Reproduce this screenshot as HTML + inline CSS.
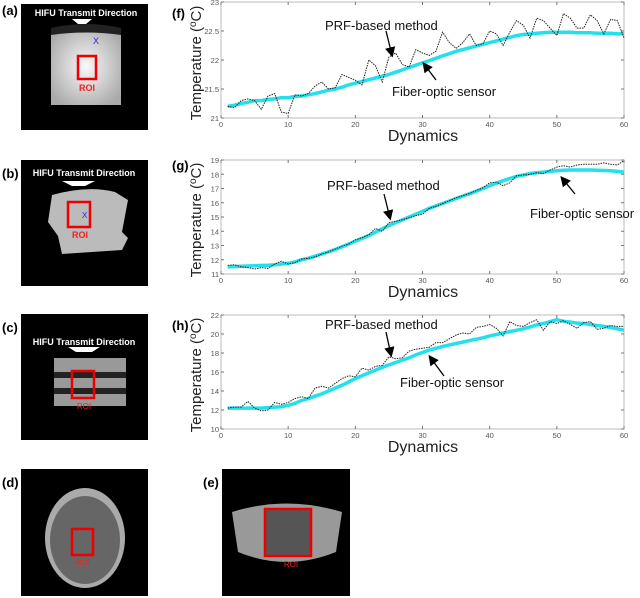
<!DOCTYPE html>
<html><head><meta charset="utf-8"><style>
html,body{margin:0;padding:0;background:#fff;}
svg{display:block;font-family:"Liberation Sans",sans-serif;}
.lbl{font-weight:bold;font-size:13px;}
.tick{font-size:7.5px;fill:#555;}
.ann{font-size:13px;fill:#111;}
.ax{font-size:16px;fill:#222;}
.yax{font-size:15px;fill:#222;}
</style></head><body>
<svg id="fig" width="640" height="598" viewBox="0 0 640 598">
<defs>
<marker id="ah" markerWidth="8" markerHeight="8" refX="6" refY="4" orient="auto"><path d="M0,0 L8,4 L0,8 z" fill="#000"/></marker>
<radialGradient id="glow" cx="0.5" cy="0.5" r="0.6"><stop offset="0" stop-color="#f8f8f8"/><stop offset="1" stop-color="#aaa"/></radialGradient>
</defs>
<g>
<rect x="21" y="4" width="127" height="126" fill="#000"/>
<rect x="51" y="28" width="70" height="77" fill="url(#glow)"/>
<path d="M51,28 Q86,20 121,28 L121,35 Q86,30 51,35z" fill="#222"/>
<polygon points="72,19 92,19 86,24 78,24" fill="#fff"/>
<text x="86" y="16" font-size="9" font-weight="bold" fill="#fff" text-anchor="middle">HIFU Transmit Direction</text>
<text x="93" y="44" font-size="9" fill="#22f">X</text>
<rect x="78" y="56" width="18" height="23" fill="none" stroke="#e00" stroke-width="2.5"/>
<text x="87" y="91" font-size="9" font-weight="bold" fill="#e22" text-anchor="middle">ROI</text>
</g>
<text class="lbl" x="2" y="15">(a)</text>
<g>
<rect x="21" y="160" width="127" height="126" fill="#000"/>
<path d="M52,195 Q88,185 115,192 L128,200 L122,232 L128,238 L122,250 L62,254 L58,236 L48,222z" fill="#bbb"/>
<polygon points="62,181 95,181 85,186 72,186" fill="#fff"/>
<text x="84" y="176" font-size="9" font-weight="bold" fill="#fff" text-anchor="middle">HIFU Transmit Direction</text>
<rect x="68" y="202" width="22" height="25" fill="none" stroke="#e00" stroke-width="2.5"/>
<text x="82" y="218" font-size="8" fill="#22f">X</text>
<text x="80" y="238" font-size="9" font-weight="bold" fill="#e22" text-anchor="middle">ROI</text>
</g>
<text class="lbl" x="2" y="178">(b)</text>
<g>
<rect x="21" y="314" width="127" height="126" fill="#000"/>
<rect x="54" y="358" width="72" height="48" fill="#999"/>
<rect x="54" y="372" width="72" height="6" fill="#222"/>
<rect x="54" y="388" width="72" height="6" fill="#222"/>
<polygon points="68,347 100,347 92,352 76,352" fill="#fff"/>
<text x="84" y="345" font-size="9" font-weight="bold" fill="#fff" text-anchor="middle">HIFU Transmit Direction</text>
<rect x="72" y="371" width="22" height="27" fill="none" stroke="#e00" stroke-width="2.5"/>
<text x="84" y="409" font-size="8" fill="#e22" text-anchor="middle">ROI</text>
</g>
<text class="lbl" x="2" y="332">(c)</text>
<g>
<rect x="21" y="469" width="127" height="127" fill="#000"/>
<ellipse cx="85" cy="538" rx="40" ry="50" fill="#aaa"/>
<ellipse cx="85" cy="540" rx="35" ry="44" fill="#666"/>
<rect x="72" y="529" width="21" height="26" fill="none" stroke="#e00" stroke-width="2.5"/>
<text x="83" y="565" font-size="8" fill="#e22" text-anchor="middle">ROI</text>
</g>
<text class="lbl" x="2" y="487">(d)</text>
<g>
<rect x="222" y="469" width="128" height="127" fill="#000"/>
<path d="M232,512 Q286,495 342,512 L336,552 Q286,572 238,552z" fill="#999"/>
<rect x="265" y="509" width="46" height="47" fill="#555" stroke="#e00" stroke-width="2.5"/>
<text x="291" y="567" font-size="8" fill="#e22" text-anchor="middle">ROI</text>
</g>
<text class="lbl" x="203" y="487">(e)</text>
<g id="charts"></g>
</svg>
<script>
const xTicks=[0,10,20,30,40,50,60];
const fTicks=[21,21.5,22,22.5,23];
const gTicks=[11,12,13,14,15,16,17,18,19];
const hTicks=[10,12,14,16,18,20,22];
const fFiber=[21.2,21.22,21.25,21.27,21.3,21.3,21.32,21.33,21.35,21.35,21.37,21.38,21.4,21.42,21.45,21.48,21.5,21.53,21.57,21.6,21.63,21.66,21.69,21.72,21.75,21.79,21.83,21.87,21.91,21.95,21.99,22.03,22.07,22.11,22.15,22.18,22.21,22.24,22.27,22.3,22.33,22.36,22.39,22.42,22.44,22.45,22.46,22.47,22.48,22.48,22.48,22.48,22.47,22.47,22.47,22.46,22.46,22.46,22.45,22.45];
const fPRF=[21.2,21.18,21.3,21.33,21.3,21.15,21.38,21.42,21.1,21.08,21.4,21.38,21.42,21.55,21.62,21.5,21.52,21.75,21.7,21.65,21.57,22.0,21.9,21.62,22.05,22.12,21.92,21.88,22.18,22.12,22.08,22.15,22.48,22.3,22.2,22.3,22.45,22.25,22.28,22.5,22.45,22.25,22.48,22.68,22.6,22.38,22.72,22.68,22.55,22.42,22.8,22.72,22.55,22.55,22.78,22.68,22.45,22.7,22.68,22.38];
const gFiber=[11.5,11.52,11.54,11.56,11.58,11.6,11.62,11.65,11.7,11.75,11.85,12.0,12.1,12.25,12.4,12.55,12.72,12.9,13.1,13.3,13.5,13.7,13.93,14.17,14.4,14.6,14.8,15.0,15.2,15.4,15.6,15.78,15.95,16.12,16.3,16.47,16.64,16.8,17.0,17.2,17.38,17.55,17.7,17.85,17.95,18.05,18.1,18.15,18.2,18.25,18.28,18.3,18.3,18.3,18.3,18.28,18.26,18.24,18.2,18.15];
const gPRF=[11.6,11.65,11.5,11.45,11.35,11.45,11.4,11.7,11.9,11.7,11.8,12.05,12.1,12.2,12.4,12.55,12.75,12.95,13.1,13.4,13.55,13.75,14.2,14.0,14.6,14.7,14.8,14.95,15.1,15.2,15.6,15.75,15.95,16.15,16.35,16.5,16.65,16.85,17.05,17.4,17.45,17.2,17.4,17.9,17.95,18.0,18.1,18.05,18.3,18.5,18.6,18.5,18.65,18.7,18.7,18.7,18.8,18.7,18.65,18.95];
const hFiber=[12.2,12.2,12.2,12.2,12.2,12.2,12.25,12.3,12.35,12.5,12.7,13.0,13.2,13.45,13.7,14.0,14.3,14.6,14.95,15.3,15.6,15.9,16.2,16.5,16.75,17.0,17.25,17.5,17.8,18.05,18.3,18.5,18.7,18.85,19.0,19.15,19.3,19.45,19.6,19.8,19.95,20.1,20.25,20.4,20.55,20.75,20.95,21.1,21.3,21.5,21.35,21.25,21.15,21.1,21.0,20.9,20.8,20.7,20.55,20.4];
const hPRF=[12.2,12.3,12.3,12.9,12.2,11.9,12.0,12.8,12.6,12.8,13.2,13.4,13.2,14.3,14.5,14.3,14.8,15.3,15.6,15.5,16.4,16.2,16.6,16.7,17.6,17.4,17.5,18.2,18.4,18.5,18.6,19.1,19.1,19.5,19.9,20.1,20.0,20.7,20.8,21.0,20.6,19.8,21.3,20.9,20.8,21.2,21.5,20.4,21.3,21.1,21.4,21.0,20.6,21.2,21.3,20.5,20.6,20.9,20.8,20.8];
const NS='http://www.w3.org/2000/svg';
const root=document.getElementById('charts');
function mk(tag,attrs,parent,txt){const e=document.createElementNS(NS,tag);for(const k in attrs)e.setAttribute(k,attrs[k]);if(txt!==undefined)e.textContent=txt;(parent||root).appendChild(e);return e;}
function chart(id,top,bot,yTicks,ymin,ymax,fiber,prf,letter,letterY,ann){
  const L=221,R=624;
  const X=v=>L+(v/60)*(R-L);
  const Y=v=>bot-(v-ymin)/(ymax-ymin)*(bot-top);
  const g=mk('g',{});
  
  
  const fr=mk('rect',{x:L,y:top,width:R-L,height:bot-top,fill:'#fff',stroke:'#bbb','stroke-width':1},g);
  
  
  xTicks.forEach(t=>{
    mk('line',{x1:X(t),x2:X(t),y1:bot,y2:bot-3,stroke:'#777'},g);
    mk('line',{x1:X(t),x2:X(t),y1:top,y2:top+3,stroke:'#777'},g);
    const tx=mk('text',{x:X(t),y:bot+9,'text-anchor':'middle',class:'tick'},g,String(t));
    
    
  });
  yTicks.forEach(t=>{
    mk('line',{x1:L,x2:L+3,y1:Y(t),y2:Y(t),stroke:'#777'},g);
    mk('line',{x1:R,x2:R-3,y1:Y(t),y2:Y(t),stroke:'#777'},g);
    const tx=mk('text',{x:L-2,y:Y(t)+3,'text-anchor':'end',class:'tick'},g,String(t));
    
    
  });
  const pd=a=>a.map((v,i)=>(i?'L':'M')+X(i+1).toFixed(1)+','+Y(v).toFixed(1)).join(' ');
  const fl=mk('path',{d:pd(fiber),fill:'none',stroke:'#22e0ec','stroke-width':3.5},g);
  
  
  const pl=mk('path',{d:pd(prf),fill:'none',stroke:'#222','stroke-width':1,'stroke-dasharray':'1.5,1'},g);
  
  
  const lt=mk('text',{x:172,y:letterY,class:'lbl'},g,'('+letter+')');
  
  
  const cy=(top+bot)/2+3;
  const yt=mk('text',{x:0,y:0,class:'yax','text-anchor':'middle',transform:`translate(201,${cy}) rotate(-90)`},g);
  
  
  yt.innerHTML='Temperature (<tspan dy="-5" font-size="10">o</tspan><tspan dy="5">C)</tspan>';
  const xt=mk('text',{x:423,y:bot+23,class:'ax','text-anchor':'middle'},g,'Dynamics');
  
  
  const a1=mk('text',{x:ann[0],y:ann[1],class:'ann'},g,'PRF-based method');
  
  
  mk('line',{x1:ann[2],y1:ann[3],x2:ann[4],y2:ann[5],stroke:'#000','stroke-width':1.3,'marker-end':'url(#ah)'},g);
  const a2=mk('text',{x:ann[6],y:ann[7],class:'ann'},g,'Fiber-optic sensor');
  
  
  mk('line',{x1:ann[8],y1:ann[9],x2:ann[10],y2:ann[11],stroke:'#000','stroke-width':1.3,'marker-end':'url(#ah)'},g);
}
chart('f',2,118,fTicks,21,23,fFiber,fPRF,'f',18,[325,30,386,31,392,55,392,96,436,80,424,64]);
chart('g',160,274,gTicks,11,19,gFiber,gPRF,'g',170,[327,190,384,194,390,218,530,218,575,194,562,178]);
chart('h',315,429,hTicks,10,22,hFiber,hPRF,'h',330,[325,329,386,332,391,355,400,387,444,376,430,357]);
</script>
</body></html>
